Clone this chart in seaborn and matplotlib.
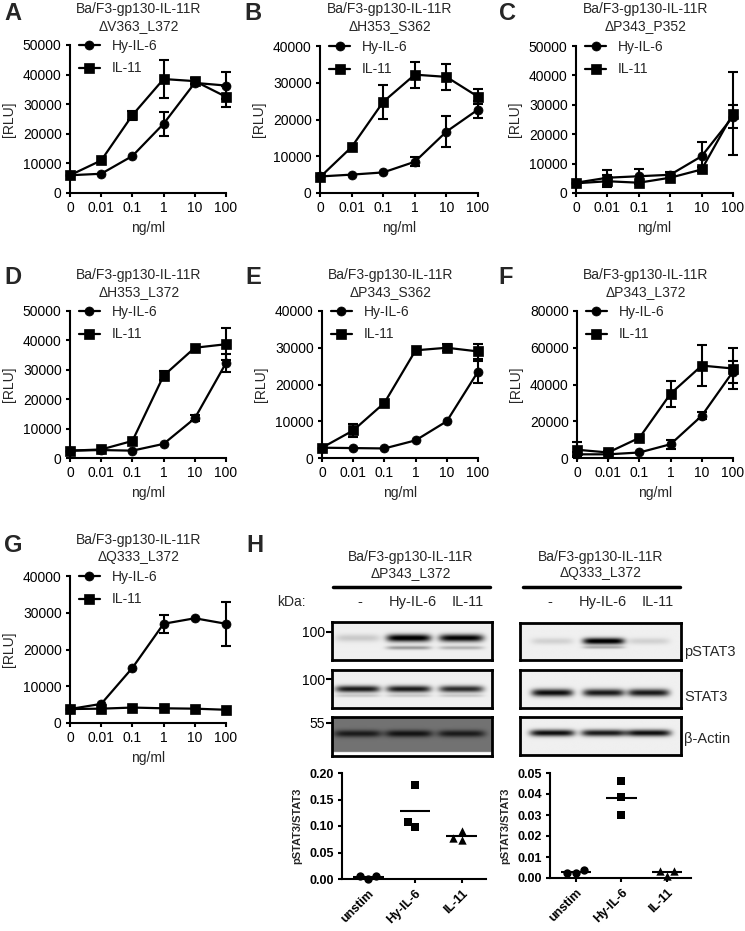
import numpy as np
import pandas as pd
import seaborn as sns
import matplotlib
matplotlib.use("Agg")
import matplotlib.pyplot as plt
from matplotlib.lines import Line2D

# ---------------- data ----------------
doses = ["0", "0.01", "0.1", "1", "10", "100"]
series_names = ["Hy-IL-6", "IL-11"]

A_hy = [6000, 6500, 12500, 23400, 37200, 36300]
A_hy_err = [0, 0, 0, 4000, 0, 4500]
A_il = [6000, 11000, 26300, 38500, 37800, 32500]
A_il_err = [0, 0, 1500, 6500, 1000, 3500]

B_hy = [4500, 5000, 5600, 8500, 16700, 22700]
B_hy_err = [0, 0, 0, 1200, 4200, 2200]
B_il = [4300, 12500, 24800, 32200, 31600, 26200]
B_il_err = [0, 0, 4600, 3500, 3600, 2000]

C_hy = [3500, 5200, 5700, 6200, 12500, 26000]
C_hy_err = [0, 2500, 2500, 1000, 5000, 4000]
C_il = [3300, 4000, 3500, 5200, 8000, 27000]
C_il_err = [0, 2000, 0, 0, 1000, 14000]

D_hy = [2500, 2700, 2500, 4800, 13500, 32300]
D_hy_err = [0, 0, 0, 0, 1000, 3000]
D_il = [2500, 2900, 5800, 28000, 37500, 38700]
D_il_err = [0, 0, 0, 1500, 0, 5500]

E_hy = [2800, 2700, 2600, 4800, 10000, 23500]
E_hy_err = [0, 0, 0, 0, 0, 3000]
E_il = [2800, 7500, 15000, 29300, 30000, 29000]
E_il_err = [0, 1800, 0, 0, 1000, 2000]

F_hy = [2000, 2000, 3000, 7500, 23000, 47000]
F_hy_err = [1000, 0, 0, 2500, 2000, 6000]
F_il = [4500, 3000, 11000, 35000, 50300, 48700]
F_il_err = [4000, 1000, 0, 7000, 11000, 11000]

G_hy = [3800, 5200, 15000, 27000, 28500, 27000]
G_hy_err = [0, 0, 0, 2500, 0, 6000]
G_il = [3800, 3900, 4200, 4000, 3900, 3600]
G_il_err = [0, 0, 0, 0, 0, 0]

panel_letters = ["A", "B", "C", "D", "E", "F", "G"]
panel_mutants = ["ΔV363_L372", "ΔH353_S362", "ΔP343_P352",
                 "ΔH353_L372", "ΔP343_S362", "ΔP343_L372", "ΔQ333_L372"]
panel_ymax = [50000, 40000, 50000, 50000, 40000, 80000, 40000]
panel_ystep = [10000, 10000, 10000, 10000, 10000, 20000, 10000]
cell_line = "Ba/F3-gp130-IL-11R"

# western blot (H)
blot_mutants = ["ΔP343_L372", "ΔQ333_L372"]
lane_labels = ["-", "Hy-IL-6", "IL-11"]
blot_rows = ["pSTAT3", "STAT3", "β-Actin"]
kda_marks = ["100", "100", "55"]
pstat3_left = [0.15, 1.0, 0.95]
pstat3_left_minor = [0.0, 0.35, 0.25]
stat3_left = [0.85, 0.85, 0.78]
actin_left = [0.35, 0.38, 0.35]
pstat3_right = [0.12, 1.0, 0.12]
pstat3_right_minor = [0.0, 0.25, 0.0]
stat3_right = [0.9, 0.85, 0.85]
actin_right = [0.9, 0.85, 0.9]

# quantification (H)
quant_cats = ["unstim", "Hy-IL-6", "IL-11"]
H1_unstim = [0.006, 0.000, 0.005]
H1_hy = [0.178, 0.098, 0.107]
H1_il = [0.091, 0.073, 0.077]
H2_unstim = [0.0036, 0.0026, 0.0026]
H2_hy = [0.046, 0.0386, 0.030]
H2_il = [0.0035, 0.0010, 0.0035]

# ---------------- style ----------------
sns.set_style("ticks")
plt.rcParams["font.family"] = ["Liberation Sans", "DejaVu Sans"]
plt.rcParams["axes.linewidth"] = 1.5
plt.rcParams["xtick.major.width"] = 1.5
plt.rcParams["ytick.major.width"] = 1.5
plt.rcParams["xtick.major.size"] = 3
plt.rcParams["ytick.major.size"] = 3
plt.rcParams["xtick.color"] = "black"
plt.rcParams["ytick.color"] = "black"
plt.rcParams["axes.edgecolor"] = "black"

W, H = 745, 931
fig = plt.figure(figsize=(W / 100, H / 100), dpi=100)


def px_axes(x0, y0, x1, y1):
    return fig.add_axes([x0 / W, 1 - y1 / H, (x1 - x0) / W, (y1 - y0) / H])


def ftext(x, y, s, **kw):
    kw.setdefault("ha", "center")
    kw.setdefault("va", "center")
    return fig.text(x / W, 1 - y / H, s, **kw)


def line_panel(ax, hy, hy_err, il, il_err, ymax, ystep):
    x = np.arange(len(doses))
    for vals, errs, mk, lab in [(hy, hy_err, "o", series_names[0]),
                                (il, il_err, "s", series_names[1])]:
        vals = np.asarray(vals, float)
        e = np.asarray(errs, float)
        m = e > 0
        if m.any():
            ax.errorbar(x[m], vals[m], yerr=e[m], fmt="none", ecolor="black",
                        elinewidth=1.5, capsize=3.5, capthick=1.5,
                        clip_on=False, zorder=2)
        sns.lineplot(x=x, y=vals, marker=mk, color="black", linewidth=1.6,
                     markersize=6.5, markeredgecolor="black",
                     markeredgewidth=0.5, label=lab, ax=ax, clip_on=False,
                     zorder=3)
    ax.set_xlim(0, 5)
    ax.set_ylim(0, ymax)
    ax.set_xticks(x)
    ax.set_xticklabels(doses, fontsize=10)
    ax.set_yticks(np.arange(0, ymax + 1, ystep))
    ax.set_yticklabels([str(int(v)) for v in np.arange(0, ymax + 1, ystep)],
                       fontsize=10)
    ax.tick_params(axis="both", pad=3)
    ax.set_xlabel("ng/ml", fontsize=10, labelpad=4)
    ax.set_ylabel("[RLU]", fontsize=10, labelpad=5)
    sns.despine(ax=ax)
    ax.legend(loc="upper left", bbox_to_anchor=(0.058, 1.04), frameon=False,
              borderpad=0, borderaxespad=0, handlelength=1.5,
              handletextpad=0.85, labelspacing=0.6, fontsize=10)


line_data = [(A_hy, A_hy_err, A_il, A_il_err), (B_hy, B_hy_err, B_il, B_il_err),
             (C_hy, C_hy_err, C_il, C_il_err), (D_hy, D_hy_err, D_il, D_il_err),
             (E_hy, E_hy_err, E_il, E_il_err), (F_hy, F_hy_err, F_il, F_il_err),
             (G_hy, G_hy_err, G_il, G_il_err)]
ax_boxes = [(70, 45, 226, 193), (320, 46, 478, 193), (576, 46, 733, 193),
            (70, 311, 226, 458), (322, 311, 478, 458), (577, 311, 733, 458),
            (70, 576, 226, 723)]
letter_pos = [(13, 13), (253, 13), (508, 13), (13, 277), (253, 277),
              (506, 277), (13, 545)]
row_off = [0, 0, 0, 266, 266, 266, 531]

for i in range(7):
    ax = px_axes(*ax_boxes[i])
    hy, hy_e, il, il_e = line_data[i]
    line_panel(ax, hy, hy_e, il, il_e, panel_ymax[i], panel_ystep[i])
    x0, _, x1, _ = ax_boxes[i]
    cx = (x0 + x1) / 2 - 9
    ftext(cx, 9 + row_off[i], cell_line, fontsize=10)
    ftext(cx, 26 + row_off[i], panel_mutants[i], fontsize=10)
    ftext(*letter_pos[i], panel_letters[i], fontsize=17, fontweight="bold")

# ---------------- H: western blots ----------------
ftext(255, 545, "H", fontsize=17, fontweight="bold")


def blot_image(lane_x, half_w, bands, bg, white_bottom=None, nrows=80, ncols=240):
    yy = np.linspace(0, 1, nrows)[:, None]
    xx = np.linspace(0, 1, ncols)[None, :]
    img = np.full((nrows, ncols), bg, dtype=float)
    for cy, sy, intens in bands:
        for lx, it in zip(lane_x, intens):
            img = img + it * np.exp(-((xx - lx) / half_w) ** 6) * \
                np.exp(-((yy - cy) / sy) ** 2)
    img = np.clip(img, 0, 1)
    if white_bottom is not None:
        img[yy[:, 0] > white_bottom, :] = 0.0
    return img


def draw_blot(box, img, kda=None, kda_y=0.25):
    ax = px_axes(*box)
    ax.imshow(img, cmap="gray_r", vmin=0, vmax=1, aspect="auto",
              extent=[0, 1, 1, 0], interpolation="bilinear")
    ax.set_xlim(0, 1)
    ax.set_ylim(1, 0)
    ax.set_xticks([])
    for s in ax.spines.values():
        s.set_linewidth(2)
        s.set_color("black")
    if kda is not None:
        ax.set_yticks([kda_y])
        ax.set_yticklabels([kda], fontsize=10)
        ax.tick_params(axis="y", length=4, width=1.5, pad=1)
    else:
        ax.set_yticks([])
    return ax


lanes_L = [0.16, 0.48, 0.81]
lanes_R = [0.2, 0.52, 0.8]
bg = 0.06
img_L = [
    blot_image(lanes_L, 0.14, [(0.42, 0.10, pstat3_left), (0.68, 0.05, pstat3_left_minor)], bg),
    blot_image(lanes_L, 0.14, [(0.50, 0.09, stat3_left), (0.68, 0.04, [0.15, 0.15, 0.15])], bg),
    blot_image(lanes_L, 0.15, [(0.44, 0.09, actin_left)], 0.55, white_bottom=0.9),
]
img_R = [
    blot_image(lanes_R, 0.13, [(0.49, 0.09, pstat3_right), (0.66, 0.04, pstat3_right_minor)], bg),
    blot_image(lanes_R, 0.13, [(0.60, 0.10, stat3_right)], bg),
    blot_image(lanes_R, 0.14, [(0.42, 0.09, actin_right)], bg),
]
boxes_L = [(332, 622, 492, 660), (332, 670, 492, 708), (332, 717, 492, 756)]
boxes_R = [(520, 623, 681, 660), (520, 670, 681, 708), (520, 717, 681, 755)]
kda_y = [0.26, 0.24, 0.15]
for j in range(3):
    draw_blot(boxes_L[j], img_L[j], kda_marks[j], kda_y[j])
    draw_blot(boxes_R[j], img_R[j])
    ftext(684, [652, 697, 739][j], blot_rows[j], fontsize=10.5, ha="left")

ftext(277, 602, "kDa:", fontsize=10, ha="left")
for lx, lab in zip([360, 413, 468], lane_labels):
    ftext(lx, 602, lab, fontsize=10.5)
for lx, lab in zip([550, 603, 658], lane_labels):
    ftext(lx, 602, lab, fontsize=10.5)

for (xa, xb, cxm, mut) in [(333, 490, 411, blot_mutants[0]), (523, 680, 601, blot_mutants[1])]:
    fig.add_artist(Line2D([xa / W, xb / W], [1 - 587 / H, 1 - 587 / H],
                          color="black", lw=2.5))
    ftext(cxm, 557, cell_line, fontsize=10)
    ftext(cxm, 573, mut, fontsize=10)


# ---------------- H: quantification ----------------
def quant_panel(box, unstim, hy, il, ymax, ystep, fmt):
    ax = px_axes(*box)
    groups = [(unstim, "o"), (hy, "s"), (il, "^")]
    for k, (vals, mk) in enumerate(groups):
        df = pd.DataFrame({"cond": [quant_cats[k]] * len(vals), "val": vals})
        sns.swarmplot(data=df, x="cond", y="val", order=quant_cats, marker=mk,
                      color="black", size=6, ax=ax, clip_on=False, zorder=3)
        ax.hlines(np.mean(vals), k - 0.33, k + 0.33, color="black", lw=1.5,
                  zorder=2, clip_on=False)
    ax.set_xlim(-0.56, 2.52)
    ax.set_ylim(0, ymax)
    ticks = np.arange(0, ymax + ystep / 2, ystep)
    ax.set_yticks(ticks)
    ax.set_yticklabels([fmt.format(t) for t in ticks], fontsize=9,
                       fontweight="bold")
    ax.set_xticks(range(3))
    ax.set_xticklabels(quant_cats, fontsize=9, fontweight="bold", rotation=45,
                       ha="right", rotation_mode="anchor")
    ax.tick_params(axis="both", pad=3)
    ax.set_xlabel("")
    ax.set_ylabel("pSTAT3/STAT3", fontsize=8, fontweight="bold", labelpad=5)
    sns.despine(ax=ax)
    return ax


quant_panel((342, 773, 486, 879), H1_unstim, H1_hy, H1_il, 0.20, 0.05, "{:.2f}")
quant_panel((550, 773, 691, 878), H2_unstim, H2_hy, H2_il, 0.05, 0.01, "{:.2f}")

fig.savefig("out.png", dpi=100)
